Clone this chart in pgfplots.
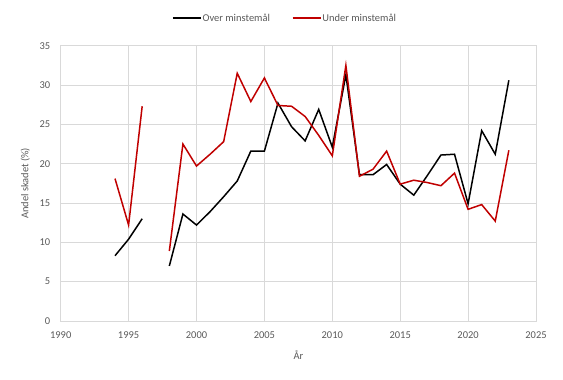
\documentclass[border=0pt]{standalone}
\usepackage{fontspec}
\setmainfont{Carlito}
\usepackage{pgfplots}
\pgfplotsset{compat=1.18}
\definecolor{txt}{HTML}{595959}
\definecolor{grd}{HTML}{D9D9D9}
\definecolor{redl}{HTML}{C00000}
\begin{document}
\begin{tikzpicture}[x=1bp,y=1bp]
\useasboundingbox (-60.7bp,-59bp) rectangle (502.3bp,321bp);
\begin{axis}[
  at={(0,0)}, anchor=south west,
  scale only axis, width=475.3bp, height=275.3bp,
  xmin=1990, xmax=2025, ymin=0, ymax=35,
  xtick={1990,1995,...,2025}, ytick={0,5,...,35},
  grid=major, grid style={grd, line width=0.8pt},
  axis line style={grd, line width=0.8pt},
  major tick length=0pt,
  /pgf/number format/1000 sep={},
  /pgf/number format/assume math mode=true,
  tick label style={font=\fontsize{10.5}{12}\selectfont, text=txt},
  xticklabel style={yshift=-7bp},
  yticklabel style={xshift=-7bp},
  xlabel={År}, ylabel={Andel skadet (\%)},
  label style={font=\fontsize{10.5}{12}\selectfont, text=txt},
  xlabel style={yshift=-5bp},
  ylabel style={yshift=3bp},
  unbounded coords=jump,
  legend columns=2,
  legend style={draw=none, fill=none, at={(0.472,1.10)}, anchor=center,
    font=\fontsize{10.5}{12}\selectfont, text=txt,
    /tikz/every even column/.append style={column sep=20bp},
    /tikz/every odd column/.append style={column sep=-1bp}},
  legend image code/.code={\draw[mark repeat=2,mark phase=2,#1] plot coordinates {(0bp,0bp) (14bp,0bp) (28bp,0bp)};},
]
\addplot[black, line width=1.5pt] coordinates {
(1994,8.3) (1995,10.4) (1996,13.0) (1997,nan) (1998,7.0) (1999,13.6) (2000,12.2)
(2001,13.9) (2002,15.8) (2003,17.8) (2004,21.6) (2005,21.6) (2006,27.7) (2007,24.7)
(2008,22.9) (2009,26.9) (2010,22.1) (2011,31.3) (2012,18.6) (2013,18.6) (2014,19.9)
(2015,17.4) (2016,16.0) (2017,18.5) (2018,21.1) (2019,21.2) (2020,14.9) (2021,24.2)
(2022,21.2) (2023,30.6)};
\addlegendentry{Over minstemål}
\addplot[redl, line width=1.5pt] coordinates {
(1994,18.1) (1995,12.2) (1996,27.3) (1997,nan) (1998,8.9) (1999,22.5) (2000,19.7)
(2001,21.2) (2002,22.8) (2003,31.5) (2004,27.9) (2005,30.9) (2006,27.4) (2007,27.3)
(2008,26.0) (2009,23.6) (2010,21.0) (2011,32.5) (2012,18.4) (2013,19.3) (2014,21.6)
(2015,17.4) (2016,17.9) (2017,17.6) (2018,17.2) (2019,18.8) (2020,14.2) (2021,14.8)
(2022,12.7) (2023,21.7)};
\addlegendentry{Under minstemål}
\end{axis}
\end{tikzpicture}
\end{document}
